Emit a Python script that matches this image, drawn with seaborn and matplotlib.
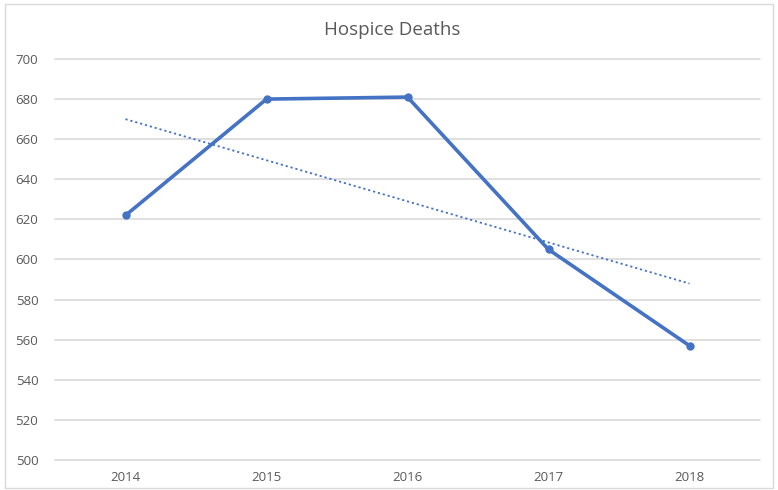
import numpy as np
import pandas as pd
import matplotlib
matplotlib.use("Agg")
import matplotlib.pyplot as plt
from matplotlib.patches import Rectangle
import seaborn as sns

years = ["2014", "2015", "2016", "2017", "2018"]
deaths = [622, 680, 681, 605, 557]
y_ticks = [500, 520, 540, 560, 580, 600, 620, 640, 660, 680, 700]

df = pd.DataFrame({"year": years, "deaths": deaths})
df["pos"] = np.arange(len(years))

sns.set_theme(style="white")
plt.rcParams["font.family"] = ["Open Sans", "DejaVu Sans"]

blue = "#4472C4"
grid_c = "#D9D9D9"
text_c = "#595959"

fig = plt.figure(figsize=(7.78, 4.90), dpi=100)
ax = fig.add_axes([55 / 778, 1 - 460 / 490, 705 / 778, 401 / 490])

# Horizontal gridlines
for t in y_ticks:
    ax.axhline(t, color=grid_c, lw=1.2, zorder=0, clip_on=False)

# Linear trendline fitted to the series
coef = np.polyfit(df["pos"], df["deaths"], 1)
trend = np.polyval(coef, df["pos"])
ax.plot(df["pos"], trend, color=blue, lw=1.3, ls=(0, (1.2, 1.6)), zorder=2)

sns.lineplot(data=df, x="pos", y="deaths", ax=ax, color=blue, lw=2.6,
             marker="o", markersize=6, markeredgewidth=0, zorder=3)

ax.set_xlim(-0.5, len(years) - 0.5)
ax.set_ylim(500, 700)
ax.set_xticks(df["pos"])
ax.set_xticklabels(years)
ax.set_yticks(y_ticks)
ax.tick_params(axis="both", length=0, labelsize=9.5, colors=text_c)
ax.tick_params(axis="x", pad=8)
ax.tick_params(axis="y", pad=12)
ax.set_xlabel("")
ax.set_ylabel("")
for s in ax.spines.values():
    s.set_visible(False)

fig.text(392 / 778, 1 - 30 / 490, "Hospice Deaths", ha="center", va="center",
         fontsize=13.5, color=text_c)

# Chart-area frame
fig.patches.append(Rectangle((5 / 778, 2 / 490), 768 / 778, 484 / 490,
                             transform=fig.transFigure, fill=False,
                             edgecolor="#D9D9D9", lw=1.0))

fig.savefig("out.png", dpi=100)
